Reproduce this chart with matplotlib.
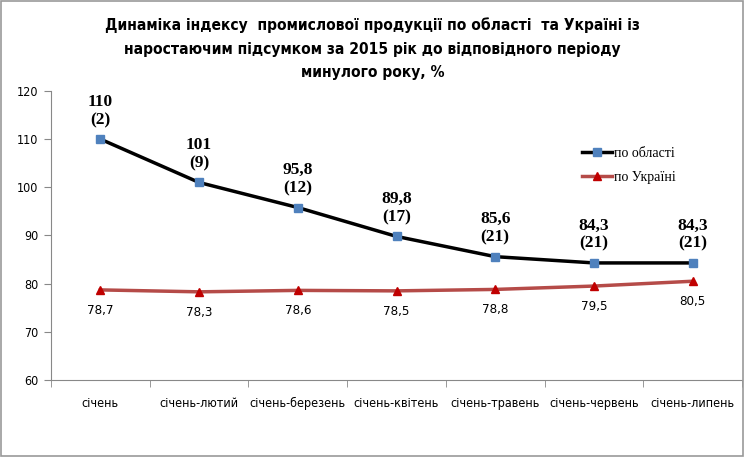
import matplotlib.pyplot as plt
from matplotlib.patches import Rectangle
import numpy as np

periods = ["січень", "січень-лютий", "січень-березень", "січень-квітень",
           "січень-травень", "січень-червень", "січень-липень"]
oblast = [110, 101, 95.8, 89.8, 85.6, 84.3, 84.3]
oblast_rank = [2, 9, 12, 17, 21, 21, 21]
ukraine = [78.7, 78.3, 78.6, 78.5, 78.8, 79.5, 80.5]

title = ("Динаміка індексу  промислової продукції по області  та Україні із\n"
         "наростаючим підсумком за 2015 рік до відповідного періоду\n"
         "минулого року, %")

fig = plt.figure(figsize=(7.45, 4.57), dpi=100)
ax = fig.add_axes([0.0685, 0.1685, 0.9275, 0.6325])

x = np.arange(len(periods))
ax.plot(x, oblast, color="black", lw=2.5, marker="s", ms=6,
        mfc="#4F81BD", mec="#4F81BD", label="по області", zorder=3)
ax.plot(x, ukraine, color="#B54B48", lw=2.5, marker="^", ms=6,
        mfc="#C00000", mec="#C00000", label="по Україні", zorder=3)

def fmt(v):
    return ("%g" % v).replace(".", ",")

for i in range(len(x)):
    ax.annotate("%s\n(%d)" % (fmt(oblast[i]), oblast_rank[i]), (x[i], oblast[i]),
                xytext=(0, 8), textcoords="offset points", ha="center", va="bottom",
                fontsize=12.5, fontweight="bold", family="Liberation Serif",
                linespacing=1.2)
    ax.annotate(fmt(ukraine[i]), (x[i], ukraine[i]),
                xytext=(0, -10), textcoords="offset points", ha="center", va="top",
                fontsize=9.5, family="DejaVu Sans", fontstretch="condensed")

ax.set_xlim(-0.5, len(x) - 0.5)
ax.set_ylim(60, 120)
ax.set_yticks(np.arange(60, 121, 10))
ax.set_xticks(x)
ax.set_xticklabels(periods, fontsize=9, fontstretch="condensed")
ax.set_xticks(np.arange(-0.5, len(x), 1), minor=True)
ax.tick_params(axis="x", which="major", length=0, pad=12)
ax.tick_params(axis="x", which="minor", length=5, color="#888888")
ax.tick_params(axis="y", length=5, color="#888888", labelsize=9, pad=4)
for lab in ax.get_yticklabels():
    lab.set_fontstretch("condensed")
for s in ["top", "right"]:
    ax.spines[s].set_visible(False)
for s in ["left", "bottom"]:
    ax.spines[s].set_color("#888888")

ax.legend(loc="upper left", bbox_to_anchor=(0.75, 0.85), frameon=False,
          prop={"family": "Liberation Serif", "size": 10},
          handlelength=2.2, handletextpad=0.1, labelspacing=0.8)

fig.text(0.5, 0.962, title, ha="center", va="top", fontsize=11.2,
         fontweight="bold", family="DejaVu Sans", fontstretch="condensed",
         linespacing=1.7)

fig.patches.append(Rectangle((0.002, 0.003), 0.995, 0.994, transform=fig.transFigure,
                             fill=False, edgecolor="#999999", lw=1.2))

fig.savefig("out.png", dpi=100)
